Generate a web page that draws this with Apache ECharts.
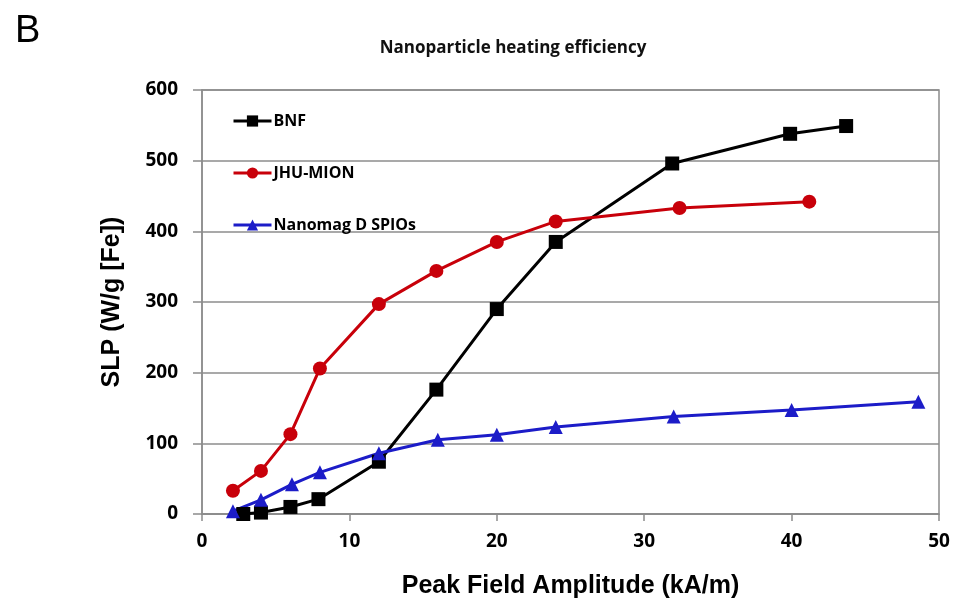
<!DOCTYPE html>
<html>
<head>
<meta charset="utf-8">
<script src="https://cdn.jsdelivr.net/npm/echarts@6/dist/echarts.min.js"></script>
<style>
html,body{margin:0;padding:0;background:#fff;}
#chart{width:955px;height:613px;}
</style>
</head>
<body>
<div id="chart"></div>
<script>
const titleText = 'Nanoparticle heating efficiency';
const panelLabel = 'B';
const xAxisName = 'Peak Field Amplitude (kA/m)';
const yAxisName = 'SLP (W/g [Fe])';
const seriesNames = ['BNF', 'JHU-MION', 'Nanomag D SPIOs'];

const bnfX = [2.8, 4.0, 6.0, 7.9, 12.0, 15.9, 20.0, 24.0, 31.9, 39.9, 43.7];
const bnfY = [0, 2, 10, 21, 74, 176, 290, 385, 496, 538, 549];

const jhuX = [2.1, 4.0, 6.0, 8.0, 12.0, 15.9, 20.0, 24.0, 32.4, 41.2];
const jhuY = [33, 61, 113, 206, 297, 344, 385, 414, 433, 442];

const nanoX = [2.1, 4.0, 6.1, 8.0, 12.0, 16.0, 20.0, 24.0, 32.0, 40.0, 48.6];
const nanoY = [4, 20, 42, 59, 86, 105, 112, 123, 138, 147, 159];

const zip = (xs, ys) => xs.map((x, i) => [x, ys[i]]);

const chart = echarts.init(document.getElementById('chart'), null, {renderer: 'canvas'});
const labelFont = '"Open Sans", "Liberation Sans", sans-serif';
const nameFont = '"Liberation Sans", Arial, sans-serif';

chart.setOption({
  backgroundColor: '#fff',
  animation: false,
  title: [
    {
      text: titleText, left: 508, top: 35, textAlign: 'center',
      textStyle: {fontFamily: labelFont, fontSize: 17, fontWeight: 'bold', color: '#111'}
    },
    {
      text: panelLabel, left: 10, top: 8,
      textStyle: {fontFamily: nameFont, fontSize: 38, fontWeight: 'normal', color: '#000'}
    }
  ],
  grid: {left: 202, right: 16, top: 90, bottom: 99, show: true, borderColor: '#8c8c8c', borderWidth: 1.5},
  legend: {
    orient: 'vertical', left: 227, top: 108, itemWidth: 38, itemHeight: 14, itemGap: 36,
    data: seriesNames,
    lineStyle: {width: 3},
    textStyle: {fontFamily: labelFont, fontSize: 16, fontWeight: 'bold', color: '#000', padding: [0,0,0,-3]}
  },
  xAxis: {
    type: 'value', min: 0, max: 50, interval: 10,
    name: xAxisName, nameLocation: 'middle', nameGap: 60,
    nameTextStyle: {fontFamily: nameFont, fontSize: 25, fontWeight: 'bold', color: '#000'},
    axisLine: {show: true, lineStyle: {color: '#8c8c8c', width: 1.5}},
    axisTick: {show: true, length: 7, lineStyle: {color: '#8c8c8c', width: 1.5}},
    axisLabel: {margin: 18, fontFamily: labelFont, fontSize: 19, fontWeight: 'bold', color: '#000'},
    splitLine: {show: false}
  },
  yAxis: {
    type: 'value', min: 0, max: 600, interval: 100,
    name: yAxisName, nameLocation: 'middle', nameGap: 77,
    nameTextStyle: {fontFamily: nameFont, fontSize: 25, fontWeight: 'bold', color: '#000'},
    axisLine: {show: true, lineStyle: {color: '#8c8c8c', width: 1.5}},
    axisTick: {show: true, length: 9, lineStyle: {color: '#8c8c8c', width: 1.5}},
    axisLabel: {margin: 24, fontFamily: labelFont, fontSize: 19, fontWeight: 'bold', color: '#000'},
    splitLine: {show: true, lineStyle: {color: '#8c8c8c', width: 1.5}}
  },
  series: [
    {
      name: seriesNames[0], type: 'line', data: zip(bnfX, bnfY),
      symbol: 'rect', symbolSize: 14,
      lineStyle: {color: '#000', width: 3}, itemStyle: {color: '#000'}
    },
    {
      name: seriesNames[1], type: 'line', data: zip(jhuX, jhuY),
      symbol: 'circle', symbolSize: 14,
      lineStyle: {color: '#c8000a', width: 3}, itemStyle: {color: '#c8000a'}
    },
    {
      name: seriesNames[2], type: 'line', data: zip(nanoX, nanoY),
      symbol: 'triangle', symbolSize: 14,
      lineStyle: {color: '#1c1cc8', width: 3}, itemStyle: {color: '#1c1cc8'}
    }
  ]
});
</script>
</body>
</html>
